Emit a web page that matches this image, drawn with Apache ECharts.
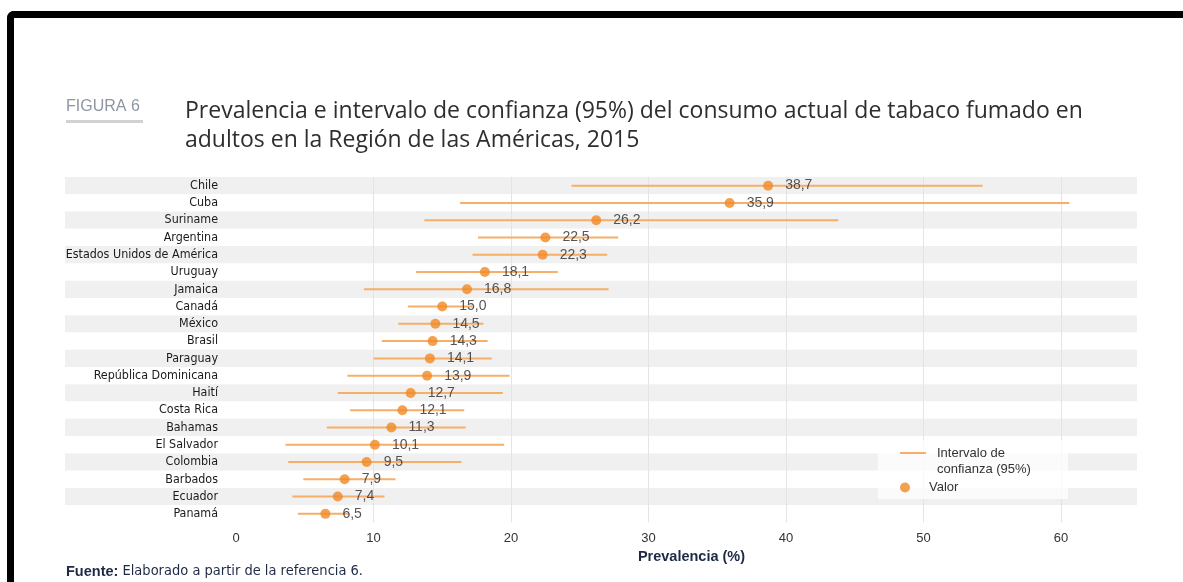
<!DOCTYPE html>
<html><head><meta charset="utf-8">
<script src="https://cdn.jsdelivr.net/npm/echarts@6/dist/echarts.min.js"></script>
<style>
html,body{margin:0;padding:0;background:#fff;}
#c{position:absolute;left:0;top:0;width:1183px;height:582px;}
#frame{position:absolute;left:7px;top:11px;width:1190px;height:590px;border-top:7px solid #000;border-left:7px solid #000;border-top-left-radius:7px;pointer-events:none;}
</style></head>
<body>
<div id="c"></div>
<div id="frame"></div>
<script>
const countries = ['Chile','Cuba','Suriname','Argentina','Estados Unidos de América','Uruguay','Jamaica','Canadá','México','Brasil','Paraguay','República Dominicana','Haití','Costa Rica','Bahamas','El Salvador','Colombia','Barbados','Ecuador','Panamá'];
const values = [38.7,35.9,26.2,22.5,22.3,18.1,16.8,15.0,14.5,14.3,14.1,13.9,12.7,12.1,11.3,10.1,9.5,7.9,7.4,6.5];
const lower = [24.4,16.3,13.7,17.6,17.2,13.1,9.3,12.5,11.8,10.6,10.0,8.1,7.4,8.3,6.6,3.6,3.8,4.9,4.1,4.5];
const upper = [54.3,60.6,43.8,27.8,27.0,23.4,27.1,17.2,18.0,18.3,18.6,19.9,19.4,16.6,16.7,19.5,16.4,11.6,10.8,8.2];
const xTicks = [0,10,20,30,40,50,60];

const NARROW = '"DejaVu Sans Condensed","Liberation Sans Narrow",sans-serif';
const SANS = '"Liberation Sans",Arial,sans-serif';
const TITLE = '"Open Sans","Liberation Sans",sans-serif';
const ORANGE = '#F08A24';
const CI = '#F6AE68';

const chart = echarts.init(document.getElementById('c'), null, {renderer:'canvas'});
const ciData = countries.map((c,i)=>[i, lower[i], upper[i]]);
const ptData = countries.map((c,i)=>[values[i], i]);

chart.setOption({
  animation:false,
  backgroundColor:'#fff',
  title:[
    {text:'FIGURA 6', left:66, top:99, padding:0, textStyle:{fontFamily:SANS, fontSize:16, fontWeight:'normal', color:'#8d96a3'}},
    {text:'Prevalencia e intervalo de confianza (95%) del consumo actual de tabaco fumado en\nadultos en la Región de las Américas, 2015', left:185, top:97, padding:0,
     textStyle:{fontFamily:TITLE, fontSize:23, fontWeight:'normal', color:'#2e2e2e', lineHeight:29}},
    {text:'{b|Fuente:} Elaborado a partir de la referencia 6.', left:66, top:564, padding:0,
     textStyle:{fontFamily:NARROW, fontSize:14.5, fontWeight:'normal', color:'#1e2a44', rich:{b:{fontFamily:SANS, fontWeight:'bold', fontSize:14.5, color:'#1e2a44'}}}}
  ],
  graphic:[
    {type:'rect', left:66, top:120, shape:{width:77, height:3}, style:{fill:'#d2d2d2'}},
    {type:'rect', left:878, top:440, shape:{width:190, height:59}, style:{fill:'rgba(255,255,255,0.75)'}, z:5}
  ],
  legend:[
    {data:['Intervalo de confianza (95%)'], left:900, top:429, padding:0, itemWidth:26, itemHeight:2, icon:'rect', z:10,
     formatter:n=>'\nIntervalo de\nconfianza (95%)',
     textStyle:{fontFamily:SANS, fontSize:13, color:'#333', lineHeight:16, padding:[0,0,0,6]}},
    {data:['Valor'], left:900, top:481, padding:0, itemWidth:26, itemHeight:10, icon:'circle', z:10,
     textStyle:{fontFamily:SANS, fontSize:13, color:'#333', padding:[0,0,0,6]}}
  ],
  grid:[
    {left:65, right:46, top:177, bottom:59.5},
    {left:236, right:122, top:177, bottom:59.5}
  ],
  xAxis:[
    {gridIndex:0, type:'value', min:0, max:1, show:false},
    {gridIndex:1, type:'value', min:xTicks[0], max:xTicks[xTicks.length-1], interval:10,
     axisLine:{show:false}, axisTick:{show:false},
     axisLabel:{fontFamily:SANS, fontSize:13, color:'#333', margin:9},
     splitLine:{show:true, showMinLine:false, lineStyle:{color:'#e4e4e4', width:1}},
     name:'Prevalencia (%)', nameLocation:'middle', nameGap:25,
     nameTextStyle:{fontFamily:SANS, fontSize:14.5, fontWeight:'bold', color:'#1e2a44', padding:[0,0,0,86]}}
  ],
  yAxis:[
    {gridIndex:0, type:'category', data:countries, inverse:true,
     axisLine:{show:false}, axisTick:{show:false}, axisLabel:{show:false}, splitLine:{show:false},
     splitArea:{show:true, interval:0, areaStyle:{color:['#f0f0f0','#ffffff']}}},
    {gridIndex:1, type:'category', data:countries, inverse:true,
     axisLine:{show:false}, axisTick:{show:false}, splitLine:{show:false},
     axisLabel:{interval:0, fontFamily:NARROW, fontSize:12.4, color:'#1a1a1a', margin:18}}
  ],
  series:[
    {name:'Intervalo de confianza (95%)', type:'custom', xAxisIndex:1, yAxisIndex:1, z:1,
     itemStyle:{color:CI},
     encode:{x:[1,2], y:0},
     data:ciData,
     renderItem:(params, api)=>{
       const idx = api.value(0);
       const p1 = api.coord([api.value(1), idx]);
       const p2 = api.coord([api.value(2), idx]);
       return {type:'line', shape:{x1:p1[0], y1:p1[1], x2:p2[0], y2:p2[1]}, style:{stroke:CI, lineWidth:2}};
     }},
    {name:'Valor', type:'scatter', xAxisIndex:1, yAxisIndex:1, z:3,
     symbol:'circle', symbolSize:10, itemStyle:{color:ORANGE},
     data:ptData,
     label:{show:true, position:'right', distance:12, fontFamily:SANS, fontSize:14, color:'#2a2a2a',
       formatter:p=>p.value[0].toFixed(1).replace('.',',')}}
  ]
});
</script>
</body></html>
